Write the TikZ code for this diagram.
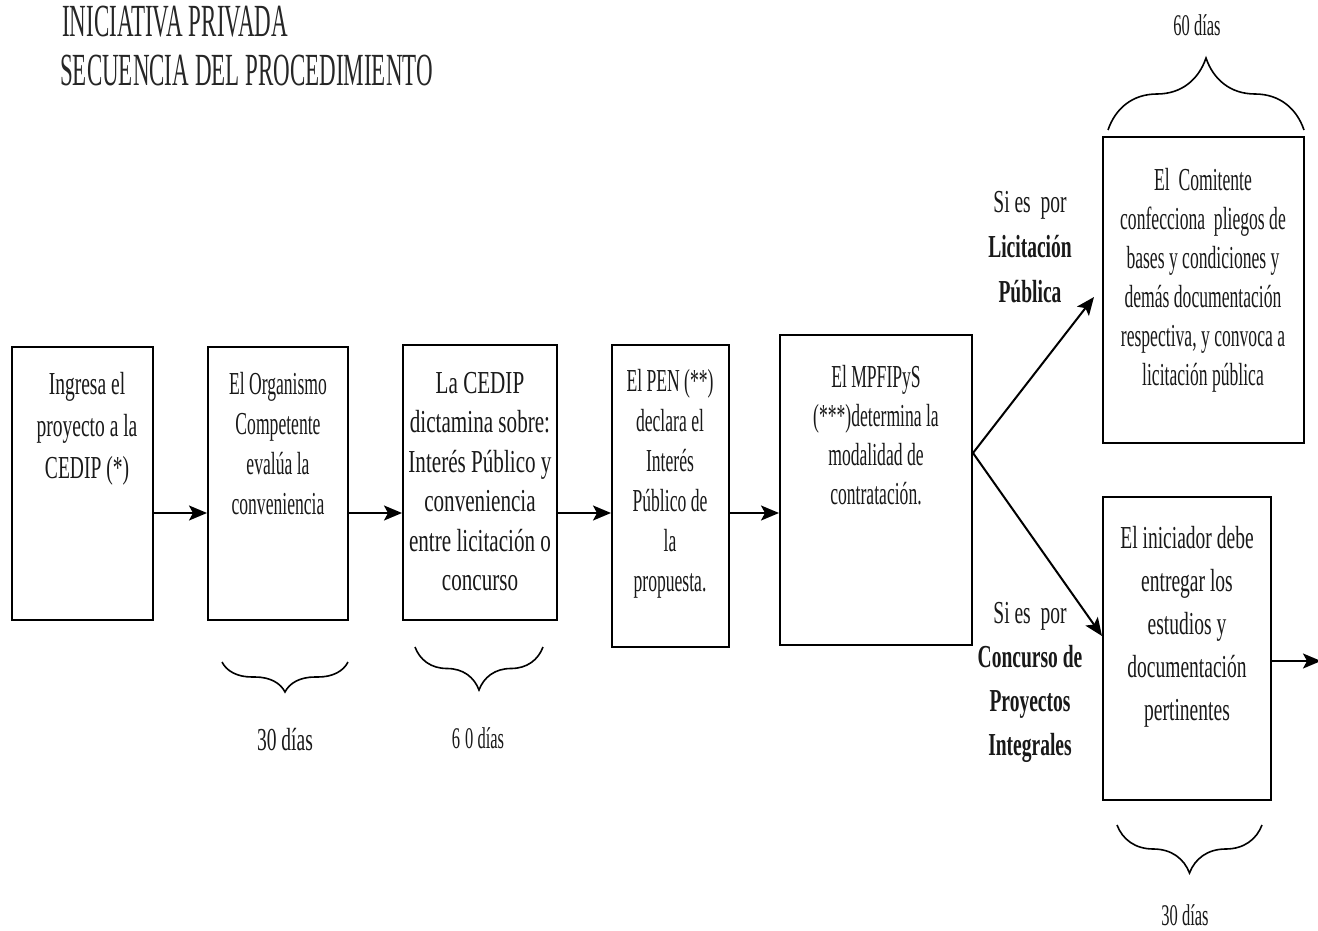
\documentclass[tikz,border=0pt]{standalone}
\usepackage{fontspec}
\newfontfamily\bx{Liberation Serif}[FakeStretch=0.55]
\newfontfamily\bxm{Liberation Serif}[FakeStretch=0.61]
\newfontfamily\bxw{Liberation Serif}[FakeStretch=0.66]
\newfontfamily\ttl{Liberation Serif}[FakeStretch=0.5]
\usetikzlibrary{arrows.meta,decorations.pathreplacing}
\begin{document}
\begin{tikzpicture}[x=1pt,y=-1pt,
  boxst/.style={draw, line width=2pt, inner sep=0pt, minimum width=#1},
  txt/.style={font=\bx\fontsize{32}{#1}\selectfont, align=center, inner sep=0pt, anchor=north, text=black!90},
  txtm/.style={txt, font=\bxm\fontsize{32}{#1}\selectfont},
  txtw/.style={txt, font=\bxw\fontsize{32}{#1}\selectfont},
  daylbl/.style={font=\bx\fontsize{30}{36}\selectfont, inner sep=0pt, text=black!90},
  daylblm/.style={font=\bxm\fontsize{32}{36}\selectfont, inner sep=0pt, text=black!90},
  ttlst/.style={font=\ttl\fontsize{46}{50}\selectfont, inner sep=0pt, anchor=base west, text=black!85},
  arr/.style={line width=2pt, -{Stealth[length=18pt,width=15pt,inset=4pt]}},
  brc/.style={decorate, line width=1.6pt, decoration={brace, amplitude=#1}}
]
\useasboundingbox[fill=white] (0,0) rectangle (1318,931);

% title
\node[ttlst] (title1) at (62,37) {INICIATIVA PRIVADA};
\node[ttlst] (title2) at (60,86) {SECUENCIA DEL PROCEDIMIENTO};

% boxes
\node[boxst=141pt, minimum height=273pt] (b1) at (82.5,483.5) {};
\node[boxst=140pt, minimum height=273pt] (b2) at (278,483.5) {};
\node[boxst=154pt, minimum height=275pt] (b3) at (480,482.5) {};
\node[boxst=117pt, minimum height=302pt] (b4) at (670.5,496) {};
\node[boxst=192pt, minimum height=310pt] (b5) at (876,490) {};
\node[boxst=201pt, minimum height=306pt] (b6) at (1203.5,290) {};
\node[boxst=168pt, minimum height=303pt] (b7) at (1187,648.5) {};

% box texts
\node[txtm=42] (t1) at (87,372) {Ingresa el\\proyecto a la\\CEDIP (*)};
\node[txt=40] (t2) at (278,372) {El Organismo\\Competente\\evalúa la\\conveniencia};
\node[txtw=39.5] (t3) at (480,372) {La CEDIP\\dictamina sobre:\\Interés Público y\\conveniencia\\entre licitación o\\concurso};
\node[txt=40] (t4) at (670,369) {El PEN (**)\\declara el\\Interés\\Público de\\la\\propuesta.};
\node[txt=39] (t5) at (876,365) {El MPFIPyS\\(***)determina la\\modalidad de\\contratación.};
\node[txt=39] (t6) at (1203,168) {El~~Comitente\\confecciona~~pliegos de\\bases y condiciones y\\demás documentación\\respectiva, y convoca a\\licitación pública};
\node[txtm=43] (t7) at (1187,526) {El iniciador debe\\entregar los\\estudios y\\documentación\\pertinentes};

% side labels
\node[txtm=45] (s1) at (1030,191) {Si es~~por\\\textbf{Licitación}\\\textbf{Pública}};
\node[txtm=44] (s2) at (1030,602) {Si es~~por\\\textbf{Concurso de}\\\textbf{Proyectos}\\\textbf{Integrales}};

% arrows
\coordinate (ay) at (0,513);
\draw[arr] (b1.east |- ay) -- (b2.west |- ay);
\draw[arr] (b2.east |- ay) -- (b3.west |- ay);
\draw[arr] (b3.east |- ay) -- (b4.west |- ay);
\draw[arr] (b4.east |- ay) -- (b5.west |- ay);
\coordinate (fk) at (0,453);
\coordinate (e6) at (1094,297);
\coordinate (e7y) at (0,636);
\draw[arr] (b5.east |- fk) -- (e6);
\draw[arr] (b5.east |- fk) -- (b7.west |- e7y);
\coordinate (e8) at (1321,661);
\draw[arr] (b7.east |- e8) -- (e8);

% braces
\draw[brc=30pt] (348,662) -- (222,662);
\draw[brc=43pt] (543,647) -- (415,647);
\draw[brc=72pt] (1108,130) -- (1304,130);
\draw[brc=48pt] (1262,825) -- (1117,825);

% day labels
\node[daylblm] (d1) at (285,740) {30 días};
\node[daylbl] (d2) at (478,738) {6\,0 días};
\node[daylbl] (d3) at (1197,25) {60 días};
\node[daylbl] (d4) at (1185,915) {30 días};
\end{tikzpicture}
\end{document}
